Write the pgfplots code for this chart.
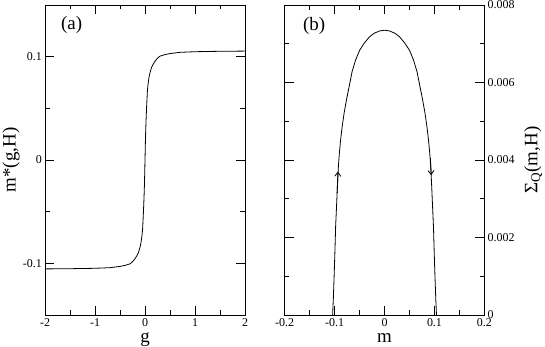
\documentclass[border=0pt]{standalone}
\usepackage{fontspec}
\setmainfont{Liberation Serif}
\usepackage{pgfplots}
\pgfplotsset{compat=1.18}
\usetikzlibrary{arrows.meta}

\pgfplotsset{
  panel/.style={
    scale only axis,
    width=200bp, height=310bp,
    anchor=south west,
    enlargelimits=false,
    tick align=inside,
    major tick length=9bp,
    minor tick length=4.5bp,
    axis line style={line width=0.8bp},
    every tick/.style={line width=0.8bp, black},
    minor x tick num=1,
    minor y tick num=1,
    scaled x ticks=false, scaled y ticks=false,
    tick label style={font=\fontsize{12}{14}\selectfont, inner sep=1bp},
    xticklabel style={yshift=-2.5bp},
    yticklabel style={xshift=2bp},
    label style={font=\fontsize{19}{21}\selectfont, inner sep=0bp},
    xlabel style={at={(axis description cs:0.5,-0.089)}, anchor=base},
  },
  curve/.style={black, line width=0.8bp, no markers},
}

\begin{document}
\begin{tikzpicture}
\path[use as bounding box] (0,0) rectangle (545bp,347bp);

% (a)
\begin{axis}[panel,
  at={(45bp,32bp)},
  xmin=-2, xmax=2, ymin=-0.15, ymax=0.15,
  xtick={-2,-1,0,1,2}, xticklabels={-2,-1,0,1,2},
  ytick={-0.1,0,0.1}, yticklabels={-0.1,0,0.1},
  yticklabel style={xshift=-4bp},
  xlabel={g}, ylabel={m*(g,H)},
  ylabel style={at={(axis description cs:-0.17,0.5)}, anchor=center},
]
\addplot[curve] coordinates {
  (-2,-0.1054) (-1.5,-0.1052) (-1.0,-0.1048) (-0.7,-0.1042) (-0.5,-0.1030)
  (-0.4,-0.1020) (-0.3,-0.1005) (-0.25,-0.0985) (-0.2,-0.0955) (-0.167,-0.0930)
  (-0.13,-0.0895) (-0.1,-0.0845) (-0.08,-0.0800) (-0.06,-0.0730) (-0.047,-0.0660)
  (-0.03,-0.0490) (-0.02,-0.0370) (-0.01,-0.0220) (0,0)
  (0.01,0.0220) (0.02,0.0370) (0.03,0.0490) (0.047,0.0660) (0.06,0.0730)
  (0.08,0.0800) (0.1,0.0845) (0.13,0.0895) (0.167,0.0930) (0.2,0.0955)
  (0.25,0.0985) (0.3,0.1005) (0.4,0.1020) (0.5,0.1030) (0.7,0.1042)
  (1.0,0.1048) (1.5,0.1052) (2,0.1054)
};
\node[font=\fontsize{19}{21}\selectfont] at (rel axis cs:0.133,0.935) {(a)};
\end{axis}

% (b)
\begin{axis}[panel,
  at={(284.7bp,32bp)}, width=199.7bp,
  xmin=-0.2, xmax=0.2, ymin=0, ymax=0.008,
  xtick={-0.2,-0.1,0,0.1,0.2}, xticklabels={-0.2,-0.1,0,0.1,0.2},
  ytick={0,0.002,0.004,0.006,0.008}, yticklabels={0,0.002,0.004,0.006,0.008},
  yticklabel pos=right,
  xlabel={m}, ylabel={Σ\textsubscript{Q}(m,H)},
  ylabel style={at={(axis description cs:1.245,0.5)}, anchor=center},
]
\addplot[curve] coordinates {
  (-0.1040,0) (-0.1025,0.00045) (-0.1010,0.00100) (-0.0995,0.00160) (-0.098,0.00228)
  (-0.096,0.00285) (-0.0945,0.00330) (-0.0925,0.00383) (-0.0905,0.00418) (-0.088,0.00452)
  (-0.085,0.00485) (-0.081,0.00521) (-0.076,0.00557) (-0.071,0.00589) (-0.065,0.00628)
  (-0.058,0.00658) (-0.050,0.00683) (-0.041,0.00701) (-0.030,0.00718) (-0.021,0.00727)
  (-0.010,0.00733) (0,0.00735)
  (0.010,0.00733) (0.021,0.00727) (0.030,0.00718) (0.041,0.00701) (0.050,0.00683)
  (0.058,0.00658) (0.065,0.00628) (0.071,0.00589) (0.076,0.00557) (0.081,0.00521)
  (0.085,0.00485) (0.088,0.00452) (0.0905,0.00418) (0.0925,0.00383) (0.0945,0.00330)
  (0.096,0.00285) (0.098,0.00228) (0.0995,0.00160) (0.1010,0.00100) (0.1025,0.00045)
  (0.1040,0)
};
\addplot[black, line width=0.8bp, -{Straight Barb[length=4bp,width=6bp]}] coordinates {(-0.0950,0.00315) (-0.0933,0.00370)};
\addplot[black, line width=0.8bp, -{Straight Barb[length=4bp,width=6bp]}] coordinates {(0.0918,0.00405) (0.0935,0.00361)};
\node[font=\fontsize{19}{21}\selectfont] at (rel axis cs:0.147,0.933) {(b)};
\end{axis}
\end{tikzpicture}
\end{document}
